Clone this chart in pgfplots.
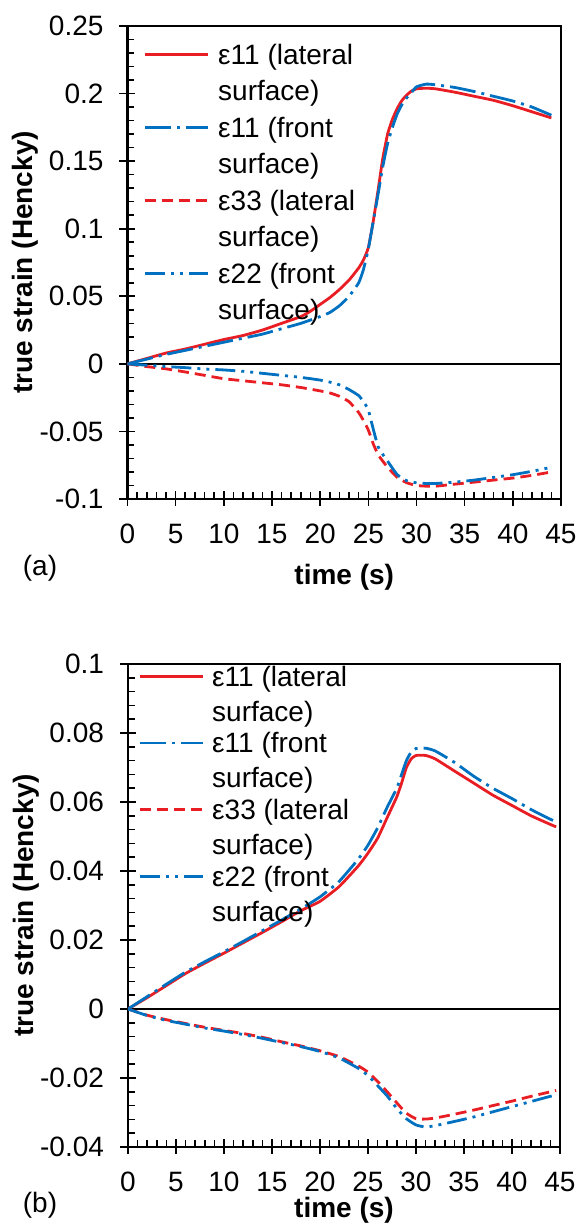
\documentclass[border=0pt]{standalone}
\usepackage{fontspec}
\setmainfont{Liberation Sans}
\usepackage{pgfplots}
\pgfplotsset{compat=1.18}
\definecolor{myred}{RGB}{232,30,36}
\definecolor{myblue}{RGB}{0,112,192}
\newcommand\two[2]{\vtop{\hbox{#1}\hbox{#2}}}
\pgfplotsset{
  base/.style={
    scale only axis,
    font=\fontsize{14}{18.2}\selectfont,
    /pgf/number format/assume math mode=true,
    xmin=0, xmax=45, xtick={0,5,10,15,20,25,30,35,40,45},
    extra x ticks={0,5,10,15,20,25,30,35,40,45},
    extra x tick labels={},
    extra x tick style={tick align=outside, major tick length=3.5pt},
    extra y tick labels={},
    extra y tick style={tick align=outside, major tick length=4pt},
    minor x tick num=4, minor y tick num=4,
    tick pos=left,
    tick align=inside,
    major tick length=4pt, minor tick length=3.5pt,
    every tick/.style={black, line width=0.8pt},
    axis line style={black, line width=1.1pt},
    scaled y ticks=false,
    yticklabel style={/pgf/number format/fixed, /pgf/number format/precision=2, xshift=-8.5pt},
    xticklabel style={yshift=-9pt},
    ylabel={\bfseries true strain (Hencky)},
    xlabel={\bfseries time (s)},
    every axis y label/.style={at={([xshift=-51pt]rel axis cs:0,0.5)}, rotate=90, anchor=center},
    legend image code/.code={\draw[##1] (0pt,5pt) -- (31.5pt,5pt);},
    legend style={draw=none, fill=none, inner sep=0pt, at={(rel axis cs:0,1)}, anchor=north west,
      nodes={inner sep=0pt, anchor=base west}, cells={anchor=base west}, column sep=4.5pt},
  },
  s1/.style={myred, line width=1.4pt, smooth, tension=0.3},
  s2/.style={myblue, line width=1.4pt, smooth, tension=0.3, dash pattern=on 13pt off 3pt on 1.5pt off 3pt},
  s3/.style={myred, line width=1.4pt, smooth, tension=0.3, dash pattern=on 5.5pt off 3pt},
  s4/.style={myblue, line width=1.4pt, smooth, tension=0.3, dash pattern=on 10pt off 3pt on 1.5pt off 3pt on 1.5pt off 3pt},
}
\begin{document}
\begin{tikzpicture}
\path[use as bounding box] (0,0) rectangle (289.5pt,-614pt);
% ---------------- (a)
\begin{axis}[base, at={(63.75pt,-13pt)}, anchor=north west,
  width=216.75pt, height=236.5pt,
  ymin=-0.1, ymax=0.25, ytick={-0.1,-0.05,0,0.05,0.1,0.15,0.2,0.25},
  extra y ticks={-0.1,-0.05,0,0.05,0.1,0.15,0.2,0.25},
  every axis x label/.style={at={([yshift=-39pt]rel axis cs:0.5,0)}, anchor=center},
  legend style={xshift=7.75pt, yshift=-8.8pt, row sep=24.9pt},
]
\addplot[black, line width=1.1pt, forget plot] coordinates {(0,0) (45,0)};
\addplot[s1] coordinates {
(0,0) (2,0.004) (4,0.008) (6,0.011) (8,0.0145) (10,0.018) (12,0.021) (14,0.025)
(16,0.030) (18,0.035) (19,0.039) (20,0.044) (21,0.049) (22,0.055) (23,0.062)
(24,0.071) (24.5,0.077) (25,0.086) (25.5,0.105) (26,0.128) (26.5,0.152) (27,0.170)
(27.5,0.181) (28,0.189) (28.5,0.195) (29,0.199) (29.5,0.202) (30,0.2035) (31,0.204)
(32,0.2035) (34,0.201) (36,0.198) (38,0.195) (40,0.191) (42,0.1865) (44,0.182)};
\addplot[s2] coordinates {
(0,0) (2,0.0035) (4,0.007) (6,0.010) (8,0.013) (10,0.016) (12,0.019) (14,0.022)
(16,0.026) (18,0.030) (20,0.035) (21,0.038) (22,0.043) (23,0.050) (24,0.060)
(24.5,0.070) (25,0.085) (25.5,0.105) (26,0.125) (26.5,0.146) (27,0.163) (27.5,0.175)
(28,0.185) (28.5,0.192) (29,0.197) (29.5,0.201) (30,0.205) (31,0.207) (32,0.2065)
(34,0.2045) (36,0.2015) (38,0.198) (40,0.1945) (42,0.190) (44,0.184)};
\addplot[s3] coordinates {
(0,0) (2,-0.002) (4,-0.0037) (6,-0.006) (8,-0.0085) (10,-0.011) (12,-0.0125) (14,-0.014)
(16,-0.0155) (18,-0.0175) (20,-0.020) (21,-0.0215) (22,-0.024) (23,-0.028) (24,-0.036)
(24.5,-0.042) (25,-0.049) (25.5,-0.059) (26,-0.067) (26.5,-0.072) (27,-0.0765) (28,-0.084)
(29,-0.088) (30,-0.090) (31,-0.0905) (32,-0.0905) (34,-0.089) (36,-0.0875) (38,-0.086)
(40,-0.0845) (42,-0.0825) (44,-0.080)};
\addplot[s4] coordinates {
(0,0) (2,-0.001) (4,-0.002) (6,-0.0028) (8,-0.0038) (10,-0.0045) (12,-0.0055) (14,-0.007)
(16,-0.0085) (18,-0.010) (20,-0.012) (21,-0.0135) (22,-0.0155) (23,-0.019) (24,-0.0235)
(24.5,-0.028) (25,-0.034) (25.5,-0.048) (26,-0.061) (26.5,-0.067) (27,-0.072) (28,-0.082)
(29,-0.0865) (30,-0.088) (31,-0.0885) (32,-0.0885) (34,-0.0875) (36,-0.086) (38,-0.084)
(40,-0.082) (42,-0.0795) (44,-0.0765)};
\legend{\two{ε11 (lateral}{surface)}, \two{ε11 (front}{surface)}, \two{ε33 (lateral}{surface)}, \two{ε22 (front}{surface)}}
\end{axis}
\node[font=\fontsize{14}{18.2}\selectfont] at (20pt,-284pt) {(a)};
% ---------------- (b)
\begin{axis}[base, at={(64pt,-332pt)}, anchor=north west,
  width=216pt, height=241.5pt,
  ymin=-0.04, ymax=0.1, ytick={-0.04,-0.02,0,0.02,0.04,0.06,0.08,0.1},
  extra y ticks={-0.04,-0.02,0,0.02,0.04,0.06,0.08,0.1},
  every axis x label/.style={at={([yshift=-31.5pt]rel axis cs:0.5,0)}, anchor=center},
  legend style={xshift=5pt, yshift=-0.8pt, row sep=21.7pt, font=\fontsize{14}{17.5}\selectfont, column sep=4pt},
]
\addplot[black, line width=1.1pt, forget plot] coordinates {(0,0) (45,0)};
\addplot[s1] coordinates {
(0,0) (2,0.0033) (4,0.0068) (6,0.0103) (8,0.0133) (10,0.0162) (12,0.0192) (14,0.0222)
(16,0.0253) (18,0.0285) (20,0.0312) (22,0.0355) (24,0.0415) (25,0.0452) (26,0.0495)
(27,0.0555) (28,0.0615) (28.5,0.0655) (29,0.0700) (29.5,0.0725) (30,0.0735) (31,0.0735)
(32,0.0725) (34,0.0690) (36,0.0655) (38,0.0620) (40,0.0590) (42,0.0560) (44,0.0535) (44.6,0.0528)};
\addplot[s2] coordinates {
(0,0) (2,0.0036) (4,0.0072) (6,0.0107) (8,0.0137) (10,0.0166) (12,0.0196) (14,0.0227)
(16,0.0258) (18,0.0290) (20,0.0325) (22,0.0370) (24,0.0435) (25,0.0475) (26,0.0525)
(27,0.0585) (28,0.0640) (28.5,0.0680) (29,0.0720) (29.5,0.0745) (30,0.0755) (31,0.0756)
(32,0.0748) (34,0.0715) (36,0.0675) (38,0.0640) (40,0.0610) (42,0.0578) (44,0.0550) (44.6,0.0543)};
\addplot[s3] coordinates {
(0,0) (2,-0.0018) (4,-0.0031) (6,-0.0042) (8,-0.0053) (10,-0.0062) (12,-0.0071) (14,-0.0082)
(16,-0.0095) (18,-0.0107) (20,-0.0121) (22,-0.0138) (24,-0.0165) (25,-0.0183) (26,-0.0210)
(27,-0.0240) (28,-0.0272) (29,-0.0302) (30,-0.0318) (31,-0.0319) (32,-0.0316) (34,-0.0305)
(36,-0.0293) (38,-0.0280) (40,-0.0267) (42,-0.0253) (44,-0.0240) (44.6,-0.0236)};
\addplot[s4] coordinates {
(0,0) (2,-0.0019) (4,-0.0033) (6,-0.0044) (8,-0.0055) (10,-0.0064) (12,-0.0074) (14,-0.0085)
(16,-0.0097) (18,-0.0109) (20,-0.0123) (22,-0.0142) (24,-0.0172) (25,-0.0193) (26,-0.0222)
(27,-0.0252) (28,-0.0288) (29,-0.0318) (30,-0.0336) (31,-0.0342) (32,-0.0338) (34,-0.0326)
(36,-0.0313) (38,-0.0298) (40,-0.0283) (42,-0.0268) (44,-0.0253) (44.6,-0.0249)};
\legend{\two{ε11 (lateral}{surface)}, \two{ε11 (front}{surface)}, \two{ε33 (lateral}{surface)}, \two{ε22 (front}{surface)}}
\end{axis}
\node[font=\fontsize{14}{18.2}\selectfont] at (20pt,-602.5pt) {(b)};
\end{tikzpicture}
\end{document}
